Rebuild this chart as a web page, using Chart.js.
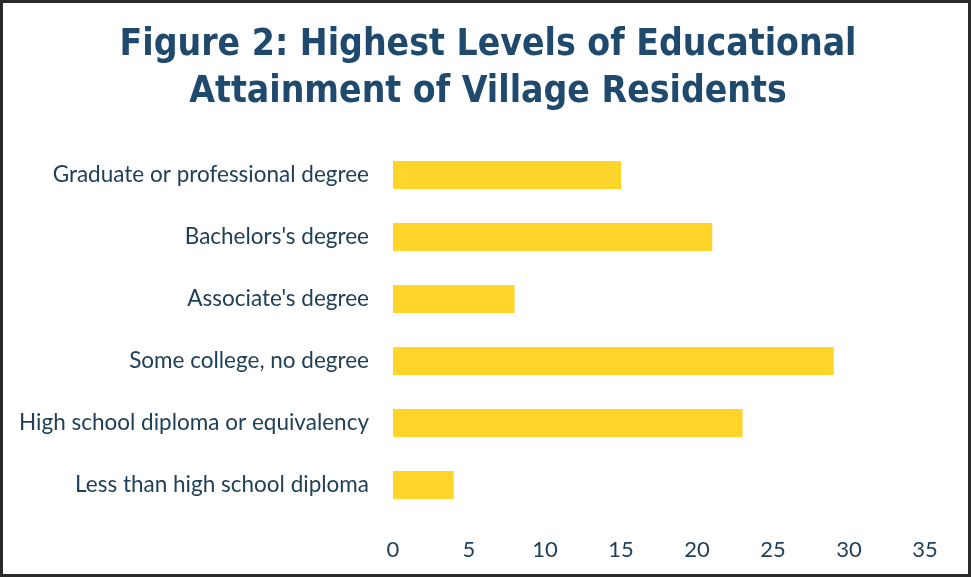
<!DOCTYPE html>
<html>
<head>
<meta charset="utf-8">
<script src="https://cdn.jsdelivr.net/npm/chart.js@4/dist/chart.umd.min.js"></script>
<style>
  html, body { margin: 0; padding: 0; background: #fff; }
  #frame {
    position: relative;
    width: 971px;
    height: 577px;
    box-sizing: border-box;
    border: 3px solid #2a2a2a;
    background: #fff;
  }
  #chart { display: block; }
</style>
</head>
<body>
<div id="frame">
  <canvas id="chart" width="965" height="571"></canvas>
</div>
<script>
const titleLines = ["Figure 2: Highest Levels of Educational", "Attainment of Village Residents"];

const categories = [
    "Graduate or professional degree",
    "Bachelors's degree",
    "Associate's degree",
    "Some college, no degree",
    "High school diploma or equivalency",
    "Less than high school diploma"
];
const residents = [15, 21, 8, 29, 23, 4];

const xMin = 0;
const xMax = 35;
const xStep = 5;

const textColor = "#1f4058";
const titleColor = "#1f4a6e";
const labelFont = { family: "Lato, 'Open Sans', sans-serif", size: 22.5 };
const tickFont = { family: "Lato, 'Open Sans', sans-serif", size: 22 };

const ctx = document.getElementById("chart").getContext("2d");

new Chart(ctx, {
    type: "bar",
    data: {
        labels: categories,
        datasets: [{
            data: residents,
            backgroundColor: function (c) {
                const bar = c.element;
                if (!c.chart.chartArea || !bar || !bar.height) return "#ffd52a";
                // slight shading from top to bottom of each bar
                const g = c.chart.ctx.createLinearGradient(0, bar.y - bar.height / 2, 0, bar.y + bar.height / 2);
                g.addColorStop(0, "#ffdc3a");
                g.addColorStop(0.7, "#ffd21e");
                g.addColorStop(1, "#ffc200");
                return g;
            },
            borderWidth: 0,
            categoryPercentage: 0.9,
            barPercentage: 0.5
        }]
    },
    options: {
        indexAxis: "y",
        responsive: false,
        animation: false,
        layout: {
            padding: { left: 5, right: 0, top: 0, bottom: 0 }
        },
        plugins: {
            legend: { display: false },
            tooltip: { enabled: false },
            title: {
                display: true,
                text: titleLines,
                color: titleColor,
                font: { family: "'DejaVu Sans Condensed', 'DejaVu Sans', sans-serif", size: 37, weight: "bold", lineHeight: 1.27 },
                padding: { top: 19, bottom: 28 }
            }
        },
        scales: {
            x: {
                min: xMin,
                max: xMax,
                grid: { display: false, drawTicks: false },
                border: { display: false },
                afterFit: function (scale) { scale.height = 58; },
                ticks: {
                    stepSize: xStep,
                    color: textColor,
                    padding: 21,
                    font: tickFont
                }
            },
            y: {
                grid: { display: false, drawTicks: false },
                border: { display: false },
                afterFit: function (scale) { scale.width = 385; },
                ticks: {
                    color: textColor,
                    padding: 24,
                    font: labelFont
                }
            },
            // empty right margin so the last tick label fits
            yRight: {
                type: "category",
                position: "right",
                grid: { display: false, drawTicks: false },
                border: { display: false },
                ticks: { display: false },
                afterFit: function (scale) { scale.width = 43; }
            }
        }
    }
});
</script>
</body>
</html>
